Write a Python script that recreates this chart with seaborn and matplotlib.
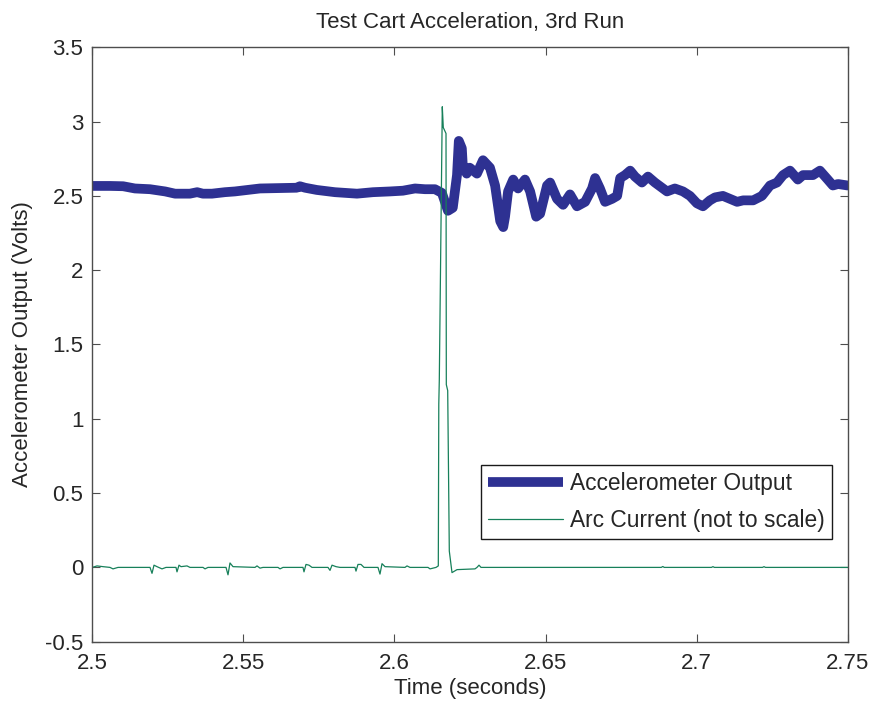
import numpy as np
import pandas as pd
import seaborn as sns
import matplotlib.pyplot as plt
from matplotlib.ticker import FuncFormatter

# Accelerometer output (volts)
acc_time = [2.5000, 2.5059, 2.5102, 2.5141, 2.5191, 2.5241, 2.5274, 2.5323, 2.5347,
            2.5366, 2.5396, 2.5439, 2.5472, 2.5555, 2.5677, 2.5687, 2.5704, 2.5743,
            2.5803, 2.5876, 2.5929, 2.5985, 2.6028, 2.6068, 2.6101, 2.6134, 2.6157,
            2.6177, 2.6193, 2.6207, 2.6213, 2.6223, 2.6226, 2.6239, 2.6249, 2.6273,
            2.6293, 2.6316, 2.6333, 2.6350, 2.6360, 2.6366, 2.6376, 2.6393, 2.6409,
            2.6432, 2.6449, 2.6469, 2.6482, 2.6505, 2.6515, 2.6538, 2.6558, 2.6581,
            2.6604, 2.6631, 2.6654, 2.6664, 2.6680, 2.6697, 2.6720, 2.6737, 2.6747,
            2.6763, 2.6780, 2.6796, 2.6819, 2.6839, 2.6862, 2.6902, 2.6928, 2.6955,
            2.6978, 2.7001, 2.7021, 2.7044, 2.7061, 2.7087, 2.7134, 2.7154, 2.7187,
            2.7216, 2.7243, 2.7266, 2.7286, 2.7309, 2.7335, 2.7352, 2.7385, 2.7408,
            2.7434, 2.7451, 2.7468, 2.7500]
acc_volts = [2.567, 2.567, 2.565, 2.550, 2.545, 2.530, 2.515, 2.515, 2.525,
             2.515, 2.515, 2.525, 2.530, 2.550, 2.555, 2.565, 2.555, 2.540,
             2.525, 2.515, 2.525, 2.530, 2.535, 2.550, 2.545, 2.545, 2.520,
             2.400, 2.420, 2.640, 2.870, 2.820, 2.710, 2.650, 2.690, 2.650,
             2.740, 2.690, 2.570, 2.330, 2.290, 2.360, 2.530, 2.610, 2.550,
             2.610, 2.530, 2.360, 2.380, 2.570, 2.590, 2.480, 2.440, 2.510,
             2.430, 2.460, 2.550, 2.620, 2.550, 2.460, 2.480, 2.500, 2.620,
             2.640, 2.670, 2.630, 2.590, 2.630, 2.590, 2.530, 2.550, 2.530,
             2.500, 2.450, 2.430, 2.470, 2.490, 2.500, 2.460, 2.470, 2.470,
             2.500, 2.570, 2.590, 2.640, 2.670, 2.610, 2.640, 2.640, 2.670,
             2.610, 2.570, 2.580, 2.570]

# Arc current (not to scale)
arc_time = [2.50000, 2.50156, 2.50354, 2.50586, 2.50685, 2.50851, 2.51910, 2.51976,
            2.52042, 2.52141, 2.52307, 2.52439, 2.52770, 2.52803, 2.52869, 2.52936,
            2.53134, 2.53233, 2.53664, 2.53730, 2.53829, 2.54425, 2.54491, 2.54557,
            2.54656, 2.55385, 2.55451, 2.55550, 2.55649, 2.56146, 2.56212, 2.56311,
            2.56973, 2.57006, 2.57072, 2.57172, 2.57271, 2.57800, 2.57867, 2.57933,
            2.58065, 2.58198, 2.58694, 2.58727, 2.58793, 2.58893, 2.58992, 2.59455,
            2.59521, 2.59588, 2.59687, 2.60349, 2.60415, 2.60514, 2.61110, 2.61176,
            2.61375, 2.61451, 2.61467, 2.61484, 2.61583, 2.61616, 2.61706, 2.61716,
            2.61762, 2.61815, 2.61904, 2.62070, 2.62665, 2.62731, 2.62798, 2.62864,
            2.68830, 2.68880, 2.68930, 2.70490, 2.70540, 2.70590, 2.72180, 2.72230,
            2.72280, 2.75000]
arc_level = [0.000, 0.010, 0.005, 0.000, -0.010, 0.000, 0.000, -0.040,
             0.015, 0.005, -0.010, 0.000, 0.000, -0.030, 0.015, 0.005,
             0.010, 0.000, 0.000, -0.010, 0.000, 0.000, -0.050, 0.030,
             0.005, 0.000, 0.010, -0.005, 0.000, 0.000, -0.010, 0.000,
             0.000, -0.030, 0.020, 0.015, 0.000, 0.000, -0.020, 0.015,
             0.005, 0.000, 0.000, -0.025, 0.020, 0.020, 0.000, 0.000,
             -0.045, 0.025, 0.005, 0.000, 0.010, 0.000, 0.000, -0.010,
             0.000, 0.010, 1.100, 1.260, 3.100, 2.960, 2.920, 1.230,
             1.190, 0.110, -0.035, -0.015, -0.010, 0.000, 0.015, 0.000,
             0.000, 0.006, 0.000, 0.000, 0.005, 0.000, 0.000, 0.005,
             0.000, 0.000]

acc_df = pd.DataFrame({'t': acc_time, 'v': acc_volts})
arc_df = pd.DataFrame({'t': arc_time, 'v': arc_level})

sns.set_theme(style='ticks')
plt.rcParams['font.family'] = ['Liberation Sans', 'DejaVu Sans']
plt.rcParams['axes.unicode_minus'] = False
text_col = '#262626'
fs = 16

fig = plt.figure(figsize=(8.73, 7.03), dpi=100)
ax = fig.add_axes([0.10573, 0.08720, 0.86529, 0.84552])

sns.lineplot(data=acc_df, x='t', y='v', ax=ax, estimator=None, sort=False,
             color='#2E3192', linewidth=7, label='Accelerometer Output',
             solid_joinstyle='round', solid_capstyle='round')
sns.lineplot(data=arc_df, x='t', y='v', ax=ax, estimator=None, sort=False,
             color='#17805A', linewidth=0.9, label='Arc Current (not to scale)')

ax.set_xlim(2.5, 2.75)
ax.set_ylim(-0.5, 3.5)
ax.set_xticks([2.5, 2.55, 2.6, 2.65, 2.7, 2.75])
ax.set_yticks([-0.5, 0, 0.5, 1, 1.5, 2, 2.5, 3, 3.5])
fmt = FuncFormatter(lambda v, p: f'{v:g}')
ax.xaxis.set_major_formatter(fmt)
ax.yaxis.set_major_formatter(fmt)

ax.tick_params(axis='both', which='major', direction='in', length=5.8, width=0.8,
               color='#4d4d4d', labelsize=fs, labelcolor=text_col,
               top=True, right=True)
ax.tick_params(axis='x', pad=8)
ax.tick_params(axis='y', pad=6.5)
for s in ax.spines.values():
    s.set_visible(True)
    s.set_color('#4d4d4d')
    s.set_linewidth(1.0)

ax.set_title('Test Cart Acceleration, 3rd Run', fontsize=fs, color=text_col, pad=14)
ax.set_xlabel('Time (seconds)', fontsize=fs, color=text_col, labelpad=3)
ax.set_ylabel('Accelerometer Output (Volts)', fontsize=fs, color=text_col, labelpad=9)
ax.grid(False)

leg = ax.legend(loc='lower right', bbox_to_anchor=(0.9796, 0.1723), borderaxespad=0,
                fontsize=16.4, fancybox=False, framealpha=1, edgecolor='#1a1a1a',
                handlelength=3.3, handletextpad=0.3, labelspacing=0.62,
                borderpad=0.32)
leg.get_frame().set_linewidth(1.0)
for t in leg.get_texts():
    t.set_color(text_col)
leg.get_lines()[0].set_solid_capstyle('butt')

fig.savefig('out.png', dpi=100)
